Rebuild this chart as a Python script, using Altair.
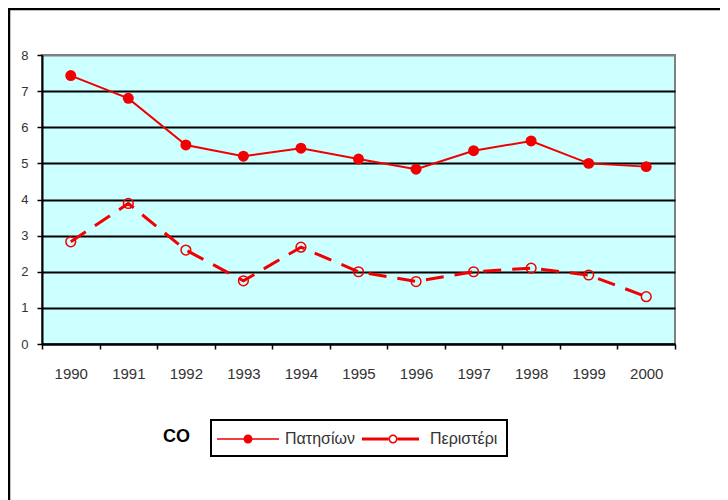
import altair as alt
import pandas as pd

years = ["1990", "1991", "1992", "1993", "1994", "1995", "1996", "1997", "1998", "1999", "2000"]
patision = [7.43, 6.8, 5.51, 5.2, 5.42, 5.12, 4.84, 5.35, 5.62, 5.0, 4.91]
peristeri = [2.83, 3.89, 2.6, 1.75, 2.68, 2.0, 1.73, 2.0, 2.1, 1.91, 1.31]
series_names = ["Πατησίων", "Περιστέρι"]
pollutant = ["CO"]
y_ticks = [0, 1, 2, 3, 4, 5, 6, 7, 8]

RED = "#f00000"
FONT = "Liberation Sans, Arial, sans-serif"

df = pd.DataFrame({
    "year": years * 2,
    "value": patision + peristeri,
    "series": [series_names[0]] * len(years) + [series_names[1]] * len(years),
})

x_enc = alt.X("year:N", sort=years,
              scale=alt.Scale(paddingInner=0, paddingOuter=0),
              axis=alt.Axis(title=None, labelAngle=0, tickBand="extent", tickSize=5,
                            tickColor="black", tickWidth=1.5, domainColor="black", domainWidth=2,
                            labelFont=FONT, labelFontSize=15, labelColor="#333333",
                            labelPadding=17, grid=False))
y_enc = alt.Y("value:Q",
              scale=alt.Scale(domain=[0, 8], nice=False, zero=True),
              axis=alt.Axis(title=None, values=y_ticks, tickSize=5, tickColor="black", tickWidth=1.5,
                            domainColor="black", domainWidth=2, labelFont=FONT,
                            labelFontSize=13, labelColor="#333333", labelPadding=9,
                            grid=True, gridWidth=2,
                            gridColor={"condition": {"test": "datum.value >= 8", "value": "#808080"},
                                       "value": "black"}))

base = alt.Chart(df)

line1 = base.transform_filter(alt.datum.series == series_names[0]).mark_line(
    color=RED, strokeWidth=2).encode(x=x_enc, y=y_enc)
line2 = base.transform_filter(alt.datum.series == series_names[1]).mark_line(
    color=RED, strokeWidth=3, strokeDash=[18, 11]).encode(x=x_enc, y=y_enc)
pts1 = base.transform_filter(alt.datum.series == series_names[0]).mark_point(
    shape="circle", filled=True, color=RED, opacity=1, size=120).encode(x=x_enc, y=y_enc)
pts2 = base.transform_filter(alt.datum.series == series_names[1]).mark_point(
    shape="circle", filled=False, color=RED, opacity=1, size=95, strokeWidth=1.5).encode(x=x_enc, y=y_enc)

# legend symbols: line with marker (custom paths, 10px per unit)
path_solid = ("M-1.3,-0.08H4.9V0.08H-1.3Z "
              "M1.35,0A0.45,0.45 0 1,1 2.25,0A0.45,0.45 0 1,1 1.35,0Z")
path_dash = ("M-1.3,-0.15H1.35V0.15H-1.3Z M2.25,-0.15H4.4V0.15H2.25Z "
             "M1.35,0A0.45,0.45 0 1,1 2.25,0A0.45,0.45 0 1,1 1.35,0Z "
             "M1.5,0A0.3,0.3 0 1,0 2.1,0A0.3,0.3 0 1,0 1.5,0Z")

legend_layer = base.transform_filter("false").mark_point(
    filled=True, color=RED, opacity=1, strokeWidth=0).encode(
    x=x_enc, y=y_enc,
    shape=alt.Shape("series:N",
                    scale=alt.Scale(domain=series_names, range=[path_solid, path_dash]),
                    legend=alt.Legend(title=None, orient="none", legendX=169, legendY=365,
                                      direction="horizontal", strokeColor="black",
                                      padding=9, symbolSize=400, symbolFillColor=RED,
                                      symbolStrokeWidth=0, symbolOpacity=1,
                                      labelOffset=45, columnPadding=7,
                                      labelFont=FONT, labelFontSize=16,
                                      labelColor="#333333")))

label_df = pd.DataFrame({"label": pollutant})
co_text = alt.Chart(label_df).mark_text(
    align="left", baseline="middle", font=FONT, fontSize=18, fontWeight="bold", color="black"
).encode(x=alt.value(121), y=alt.value(382), text="label:N")

frame_df = pd.DataFrame({"k": [0]})
frame_left = alt.Chart(frame_df).mark_rule(color="black", strokeWidth=2.5).encode(
    x=alt.value(-33), y=alt.value(-47), y2=alt.value(445))
frame_top = alt.Chart(frame_df).mark_rule(color="black", strokeWidth=2.5).encode(
    x=alt.value(-34), x2=alt.value(680), y=alt.value(-46))

chart = alt.layer(line1, line2, pts1, pts2, legend_layer, co_text, frame_left, frame_top).properties(
    width=633, height=289,
    autosize=alt.AutoSizeParams(type="none"),
    padding={"left": 34, "top": 47, "right": 45, "bottom": 156},
    background="white",
).configure_view(
    fill="#ccffff", stroke="#808080", strokeWidth=2
).configure_legend(strokeWidth=2)

chart.save("out.html", embed_options={"renderer": "svg", "actions": False})
